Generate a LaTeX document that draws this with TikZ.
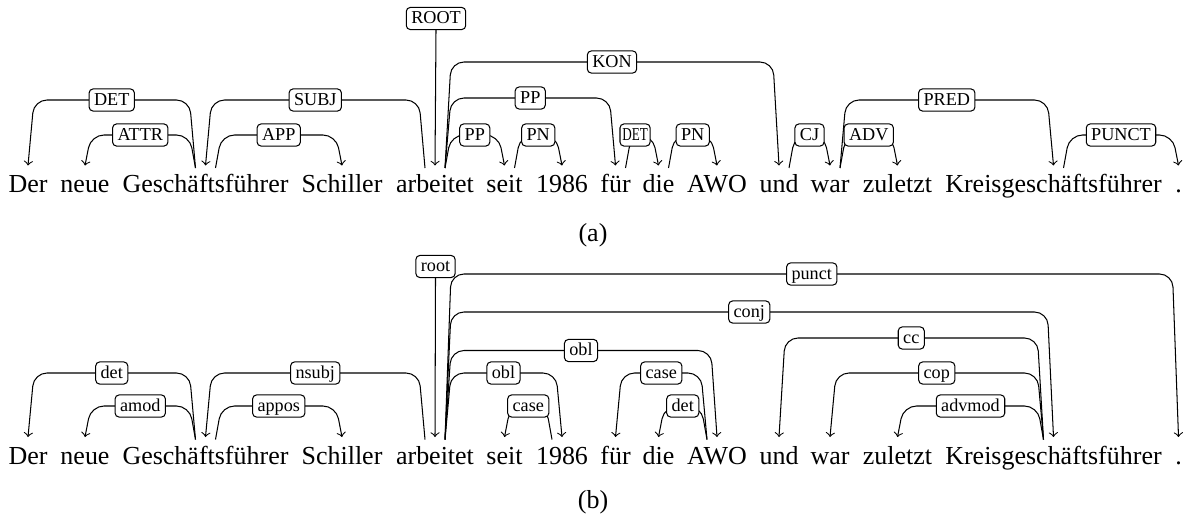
\documentclass[tikz,border=0pt]{standalone}
\usepackage{fontspec}
\usepackage{graphicx}
\setmainfont{Liberation Serif}
\usetikzlibrary{calc}
\pgfdeclarelayer{bg}
\pgfsetlayers{bg,main}
\tikzset{
  word/.style={anchor=base, inner sep=0pt, font=\fontsize{10}{12}\selectfont},
  lab/.style={draw, fill=white, rounded corners=1.5pt, inner xsep=1.9pt, inner ysep=0pt,
    minimum height=8.5pt, text height=5.3pt, text depth=1.3pt,
    font=\fontsize{7}{8}\selectfont, line width=0.4pt},
  depedge/.style={->, line width=0.4pt, rounded corners=5pt},
  rootedge/.style={->, line width=0.4pt},
}
% [#1 label options], #2 head, #3 dependent, #4 direction (+1 right, -1 left), #5 height above baseline, #6 label
\newcommand\dedge[6][pos=0.5]{%
  \begin{pgfonlayer}{bg}
  \draw[depedge] ($(#2.base)+({10*(#4)},-24.5)$) -- ($(#2.base)+({16*(#4)},-#5)$)
     -- ($(#3.base)+({-6*(#4)},-#5)$) -- ($(#3.base)+(0,-27)$);
  \end{pgfonlayer}
  \path ($(#2.base)+({10*(#4)},-#5)$) -- ($(#3.base)+(0,-#5)$) node[lab,#1] (L#2#3) {#6};
}
\begin{document}
\begin{tikzpicture}[x=0.385pt, y=-0.385pt]
\useasboundingbox (0,0) rectangle (1187,515);
% ---------- (a) ----------
\foreach \n/\x/\w in {a1/28/Der, a2/85/neue, a3/205.5/Geschäftsführer, a4/342/Schiller,
  a5/435/arbeitet, a6/504.5/seit, a7/562/1986, a8/615.5/für, a9/658.5/die, a10/717/AWO,
  a11/779/und, a12/830/war, a13/897.5/zuletzt, a14/1053.5/Kreisgeschäftsführer, a15/1178.5/.}
  \node[word] (\n) at (\x,192.5) {\w};
\dedge{a3}{a1}{-1}{92.5}{DET}
\dedge{a3}{a2}{-1}{57.5}{ATTR}
\dedge{a5}{a3}{-1}{92.5}{SUBJ}
\dedge{a3}{a4}{1}{57.5}{APP}
\dedge{a5}{a8}{1}{94.5}{PP}
\dedge{a5}{a6}{1}{57.5}{PP}
\dedge{a6}{a7}{1}{57.5}{PN}
\dedge[pos=0.29, inner xsep=0.9pt]{a8}{a9}{1}{57.5}{\scalebox{0.72}[1]{DET}}
\dedge{a9}{a10}{1}{57.5}{PN}
\dedge{a5}{a11}{1}{130.5}{KON}
\dedge{a11}{a12}{1}{57.5}{CJ}
\dedge{a12}{a13}{1}{57.5}{ADV}
\dedge{a12}{a14}{1}{92.5}{PRED}
\dedge{a14}{a15}{1}{57.5}{PUNCT}
\node[lab] (rootA) at ($(a5.base)+(1,-174)$) {ROOT};
\draw[rootedge] (rootA.south) -- ($(a5.base)+(0,-27)$);
\node[word] (capA) at (593,241) {(a)};
% ---------- (b) ----------
\foreach \n/\x/\w in {b1/28/Der, b2/85/neue, b3/205.5/Geschäftsführer, b4/342/Schiller,
  b5/435/arbeitet, b6/504.5/seit, b7/562/1986, b8/615.5/für, b9/658.5/die, b10/717/AWO,
  b11/779/und, b12/830/war, b13/897.5/zuletzt, b14/1053.5/Kreisgeschäftsführer, b15/1178.5/.}
  \node[word] (\n) at (\x,464) {\w};
\dedge{b3}{b1}{-1}{91}{det}
\dedge{b3}{b2}{-1}{58}{amod}
\dedge{b5}{b3}{-1}{91}{nsubj}
\dedge{b3}{b4}{1}{58}{appos}
\dedge{b7}{b6}{-1}{58}{case}
\dedge{b5}{b7}{1}{91}{obl}
\dedge{b5}{b10}{1}{113.5}{obl}
\dedge{b10}{b8}{-1}{91}{case}
\dedge{b10}{b9}{-1}{58}{det}
\dedge{b5}{b14}{1}{152}{conj}
\dedge{b5}{b15}{1}{190}{punct}
\dedge{b14}{b11}{-1}{126}{cc}
\dedge{b14}{b12}{-1}{91}{cop}
\dedge{b14}{b13}{-1}{58}{advmod}
\node[lab] (rootB) at ($(b5.base)+(0.5,-197.5)$) {root};
\draw[rootedge] (rootB.south) -- ($(b5.base)+(0,-27)$);
\node[word] (capB) at (593,508) {(b)};
\end{tikzpicture}
\end{document}
